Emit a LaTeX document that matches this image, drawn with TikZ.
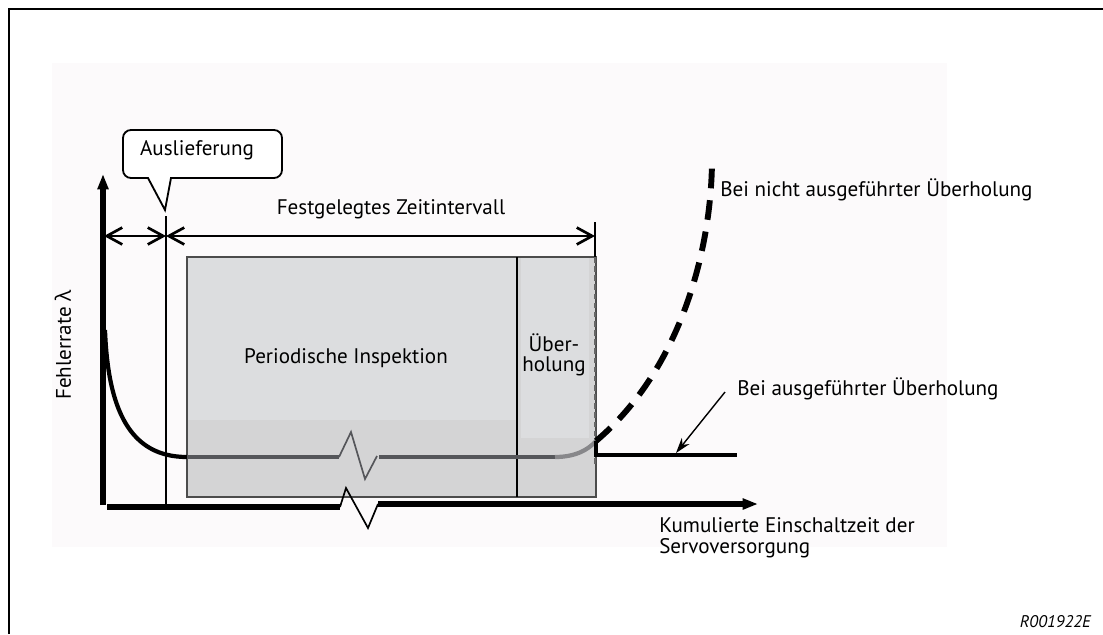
\documentclass[tikz,border=0pt]{standalone}
\usepackage{fontspec}
\setmainfont{PT Sans}
\newfontfamily\greekfont{Open Sans}
\usetikzlibrary{arrows.meta,positioning}

\definecolor{bgtint}{RGB}{252,250,251}
\definecolor{boxhigh}{RGB}{220,221,223}
\definecolor{boxlow}{RGB}{212,212,213}
\definecolor{curvegrey}{RGB}{85,86,90}
\definecolor{curvelight}{RGB}{135,135,138}

\begin{document}
\begin{tikzpicture}[
  x=0.025cm, y=-0.025cm,
  font=\fontsize{15}{14.4}\selectfont,
  axis/.style={line width=3.6pt, -{Triangle[length=11pt,width=7.5pt]}},
  dim/.style={line width=1.9pt,
    {Straight Barb[length=11pt,width=12pt,line width=1.9pt]}-{Straight Barb[length=11pt,width=12pt,line width=1.9pt]}},
  curve/.style={line width=3pt},
  zig/.style={line width=1.2pt, line join=miter},
  outline/.style={line width=0.9pt, black!70},
  label/.style={inner sep=0pt, anchor=base west, align=left}
]
  \useasboundingbox (0,0) rectangle (1103,634);
  % frame and backdrop
  \draw[line width=1.8pt] (9,634) -- (9,9) -- (1103,9);
  \fill[bgtint] (52,63) rectangle (947,547);

  % inspection and overhaul boxes
  \fill[boxlow] (187,257) rectangle (596,497);
  \fill[boxhigh] (187,257) rectangle (517,420);
  \fill[boxhigh] (521,257) rectangle (589,438);
  \draw[outline] (187,257) rectangle (596,497);
  \draw[line width=0.9pt] (517,257) -- (517,497);
  \node (insp) at (346,358) {Periodische Inspektion};
  \node[align=center] (over) at (554,355) {Über-\\holung};

  % end of interval
  \draw[line width=1.4pt] (595,222) -- (595,257);
  \draw[line width=1.3pt, black!60, dash pattern=on 4pt off 2.5pt] (595,257) -- (595,465);

  % delivery marker
  \draw[line width=1.3pt] (166,216) -- (166,505);
  \draw[line width=1.3pt, fill=white]
    (171,178) -- (165,210) -- (148,178) -- (131,178)
    arc[start angle=90, end angle=180, radius=8] -- (123,138)
    arc[start angle=180, end angle=270, radius=8] -- (274,130)
    arc[start angle=270, end angle=360, radius=8] -- (282,170)
    arc[start angle=0, end angle=90, radius=8] -- cycle;
  \node (deliv) at (197,150) {Auslieferung};

  % axes
  \draw[axis] (103,505) -- (103,174);
  \draw[line width=3.6pt] (107,507) -- (340,507);
  \draw[zig] (340,507) -- (346,488) -- (368,528) -- (378,504);
  \draw[axis] (378,504) -- (758,504);
  \node[rotate=90] (rate) at (63,345) {Fehlerrate {\greekfont λ}};

  % interval arrows
  \draw[dim] (104,236) -- (166,236);
  \draw[dim] (166,236) -- (595,236);
  \node (interval) at (391,209) {Festgelegtes Zeitintervall};

  % failure rate curve
  \draw[curve] (105,330) .. controls (108,410) and (130,457) .. (187,457);
  \draw[curve, curvegrey] (187,457) -- (339,457);
  \draw[zig, curvegrey] (339,457) -- (351,432) -- (365,479) -- (377,456);
  \draw[curve, curvegrey] (379,457) -- (555,457);
  \draw[curve, curvelight] (555,457) .. controls (575,457) and (588,450) .. (596,441);

  % with and without overhaul
  \draw[curve] (596,441) -- (596,455) -- (737,455);
  \draw[line width=4.2pt, dash pattern=on 14pt off 8.5pt]
    (596,441) .. controls (680,370) and (712,250) .. (712,158);
  \node[label] (notdone) at (720,196) {Bei nicht ausgeführter Überholung};
  \node[label] (done) at (737,395) {Bei ausgeführter Überholung};
  \coordinate (donetip) at (676,453);
  \draw[line width=1pt, -{Stealth[length=11pt,width=7pt]}] (725,392) -- (donetip);

  \node[label, anchor=north west, font=\fontsize{15}{15}\selectfont] (xlabel) at (659,517)
    {Kumulierte Einschaltzeit der\\Servoversorgung};
  \node[inner sep=0pt, anchor=base east, font=\fontsize{12}{13}\selectfont\itshape] (code) at (1091,627) {R001922E};
\end{tikzpicture}
\end{document}
